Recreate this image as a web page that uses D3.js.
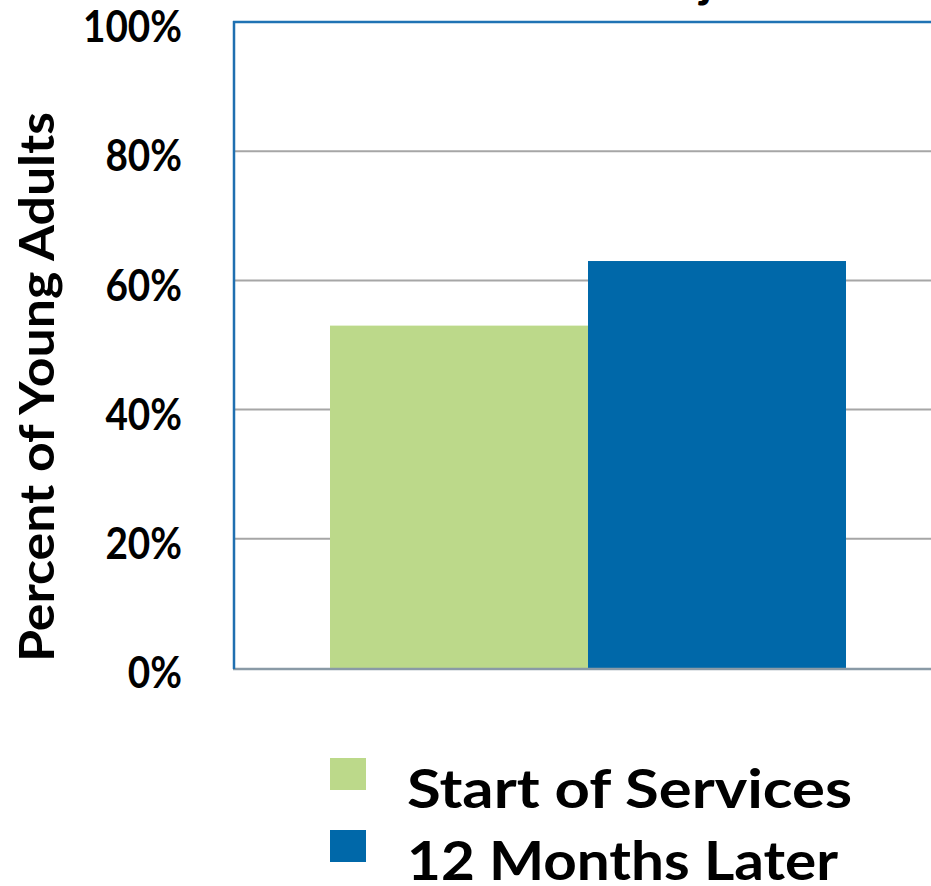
<!DOCTYPE html>
<html>
<head>
<meta charset="utf-8">
<script src="https://cdn.jsdelivr.net/npm/d3@7"></script>
<style>
  html, body { margin: 0; padding: 0; background: #ffffff; }
  svg { display: block; font-family: "Lato", "Open Sans", sans-serif; font-weight: bold; }
</style>
</head>
<body>
<svg id="chart" width="931" height="886"></svg>
<script>
// ---- data ----
const categories = ["Start of Services", "12 Months Later"];
const values = [0.53, 0.63];
const colors = ["#bcd98a", "#0068a9"];
const yTicks = [0, 0.2, 0.4, 0.6, 0.8, 1.0];
const tickLabels = ["0%", "20%", "40%", "60%", "80%", "100%"];
const yTitle = "Percent of Young Adults";
const titleFragment = "j";

const svg = d3.select("#chart");
const W = 931, H = 886;

const y = d3.scaleLinear().domain([0, 1]).range([668, 22]);
const x = d3.scaleBand().domain(categories).range([330, 846]).padding(0);

// gridlines
svg.append("g").selectAll("line")
  .data(yTicks.filter(t => t > 0 && t < 1))
  .join("line")
  .attr("x1", 233).attr("x2", W)
  .attr("y1", d => y(d)).attr("y2", d => y(d))
  .attr("stroke", "#a6a6a6").attr("stroke-width", 2);

// top border line (100%)
svg.append("line")
  .attr("x1", 233).attr("x2", W)
  .attr("y1", y(1)).attr("y2", y(1))
  .attr("stroke", "#1f73b4").attr("stroke-width", 2.5);

// bars
svg.append("g").selectAll("rect")
  .data(categories)
  .join("rect")
  .attr("x", d => x(d))
  .attr("width", x.bandwidth())
  .attr("y", (d, i) => y(values[i]))
  .attr("height", (d, i) => y(0) - y(values[i]))
  .attr("fill", (d, i) => colors[i]);

// baseline
svg.append("line")
  .attr("x1", 233).attr("x2", W)
  .attr("y1", y(0) + 1).attr("y2", y(0) + 1)
  .attr("stroke", "#8a9aa6").attr("stroke-width", 2.5);

// left axis line
svg.append("line")
  .attr("x1", 234).attr("x2", 234)
  .attr("y1", y(1) - 1).attr("y2", y(0) + 1)
  .attr("stroke", "#1f6fb0").attr("stroke-width", 2.5);

// y axis tick labels
const yAxis = d3.axisLeft(y).tickValues(yTicks)
  .tickFormat((d, i) => tickLabels[i]).tickSize(0).tickPadding(0);
const ga = svg.append("g").attr("transform", "translate(182,6)").call(yAxis);
ga.select(".domain").remove();
ga.selectAll("text")
  .attr("font-family", "Lato, 'Open Sans', sans-serif")
  .attr("font-weight", "bold")
  .attr("font-size", 43)
  .attr("fill", "#000")
  .each(function () {
    const w = this.getComputedTextLength();
    d3.select(this).attr("textLength", w * 0.9).attr("lengthAdjust", "spacingAndGlyphs");
  });

// y title
svg.append("text")
  .attr("transform", "translate(54,387) rotate(-90)")
  .attr("text-anchor", "middle")
  .attr("font-size", 48)
  .attr("textLength", 550)
  .attr("lengthAdjust", "spacingAndGlyphs")
  .attr("fill", "#000")
  .text(yTitle);

// cut-off title fragment
svg.append("text")
  .attr("x", 706).attr("y", -3)
  .attr("text-anchor", "middle")
  .attr("font-size", 48)
  .attr("fill", "#000")
  .text(titleFragment);

// legend
const leg = svg.append("g");
const legY = [774, 846];
const legLen = [445, 431];
categories.forEach((c, i) => {
  leg.append("rect")
    .attr("x", 330).attr("y", legY[i] - 16)
    .attr("width", 36).attr("height", 32)
    .attr("fill", colors[i]);
  leg.append("text")
    .attr("x", 407).attr("y", legY[i] + 34)
    .attr("font-size", 54)
    .attr("textLength", legLen[i])
    .attr("lengthAdjust", "spacingAndGlyphs")
    .attr("fill", "#000")
    .text(c);
});
</script>
</body>
</html>
